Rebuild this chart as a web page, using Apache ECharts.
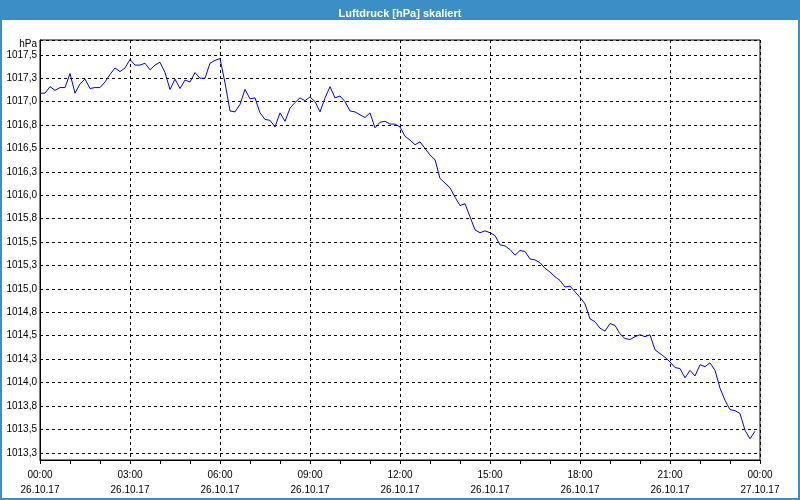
<!DOCTYPE html>
<html>
<head>
<meta charset="utf-8">
<script src="https://cdn.jsdelivr.net/npm/echarts@6/dist/echarts.min.js"></script>
<style>
html,body{margin:0;padding:0;background:#fff;}
#chart{width:800px;height:500px;}
</style>
</head>
<body>
<div id="chart"></div>
<script>
// Luftdruck, 10-minute samples from 26.10.17 00:00 to 23:50
const startDate = '26.10.17';
const endDate = '27.10.17';
const stepMinutes = 10;
const pressure = [
  1017.09, 1017.09, 1017.16, 1017.12, 1017.15, 1017.15,
  1017.30, 1017.09, 1017.19, 1017.24, 1017.14, 1017.15,
  1017.15, 1017.21, 1017.29, 1017.36, 1017.32, 1017.36,
  1017.45, 1017.39, 1017.39, 1017.41, 1017.34, 1017.39,
  1017.42, 1017.31, 1017.13, 1017.24, 1017.14, 1017.23,
  1017.21, 1017.31, 1017.25, 1017.25, 1017.41, 1017.44,
  1017.46, 1017.20, 1016.90, 1016.89, 1016.97, 1017.13,
  1017.03, 1017.04, 1016.88, 1016.81, 1016.80, 1016.73,
  1016.88, 1016.79, 1016.93, 1016.99, 1017.04, 1017.01,
  1017.05, 1017.00, 1016.89, 1017.04, 1017.16, 1017.04,
  1017.06, 1017.00, 1016.90, 1016.89, 1016.86, 1016.83,
  1016.88, 1016.72, 1016.78, 1016.79, 1016.76, 1016.76,
  1016.73, 1016.63, 1016.59, 1016.54, 1016.57, 1016.50,
  1016.43, 1016.38, 1016.18, 1016.13, 1016.08, 1015.98,
  1015.89, 1015.91, 1015.77, 1015.63, 1015.60, 1015.62,
  1015.60, 1015.57, 1015.47, 1015.46, 1015.42, 1015.36,
  1015.41, 1015.40, 1015.32, 1015.31, 1015.28, 1015.22,
  1015.18, 1015.13, 1015.09, 1015.02, 1015.03, 1014.97,
  1014.91, 1014.84, 1014.68, 1014.65, 1014.58, 1014.55,
  1014.63, 1014.61, 1014.52, 1014.47, 1014.46, 1014.49,
  1014.51, 1014.49, 1014.51, 1014.35, 1014.31, 1014.27,
  1014.22, 1014.16, 1014.15, 1014.05, 1014.13, 1014.07,
  1014.19, 1014.17, 1014.21, 1014.13, 1013.94, 1013.81,
  1013.71, 1013.70, 1013.67, 1013.49, 1013.40, 1013.48
];
const yMin = 1013.173;
const yMax = 1017.658;
const yStep = 0.25;

const seriesData = pressure.map((v, i) => [i * stepMinutes / 60, v]);

const chart = echarts.init(document.getElementById('chart'), null, {renderer: 'canvas'});
const blue = '#3c8fc6';
const fontFam = 'Liberation Sans, Arial, sans-serif';
chart.setOption({
  animation: false,
  backgroundColor: '#ffffff',
  title: {
    text: 'Luftdruck [hPa] skaliert',
    left: 'center',
    top: 3,
    textStyle: {color: '#ffffff', fontSize: 11, fontWeight: 'bold', fontFamily: fontFam}
  },
  graphic: [
    {type: 'rect', z: -1, shape: {x: 0, y: 0, width: 800, height: 20}, style: {fill: blue}},
    {type: 'rect', shape: {x: 0, y: 0, width: 2, height: 500}, style: {fill: blue}},
    {type: 'rect', shape: {x: 798, y: 0, width: 2, height: 500}, style: {fill: blue}},
    {type: 'rect', shape: {x: 0, y: 498, width: 800, height: 2}, style: {fill: blue}}
  ],
  grid: {
    left: 40, right: 40, top: 40, bottom: 40,
    show: true, borderColor: '#000', borderWidth: 1, backgroundColor: '#fff'
  },
  xAxis: {
    type: 'value',
    min: 0, max: 24, interval: 3,
    axisLine: {show: true, lineStyle: {color: '#000', width: 1}},
    axisTick: {show: true, length: 4, lineStyle: {color: '#000'}},
    minorTick: {show: true, splitNumber: 3, length: 4, lineStyle: {color: '#000'}},
    splitLine: {show: true, lineStyle: {color: '#000', type: [3, 3], width: 1}},
    axisLabel: {
      margin: 8,
      color: '#000',
      fontSize: 10,
      fontFamily: fontFam,
      lineHeight: 15,
      formatter: function (v) {
        const h = Math.round(v) % 24;
        return (h < 10 ? '0' : '') + h + ':00\n' + (v >= 24 ? endDate : startDate);
      }
    }
  },
  yAxis: {
    type: 'value',
    min: yMin, max: yMax,
    minInterval: yStep, maxInterval: yStep,
    splitNumber: 18,
    name: 'hPa',
    nameLocation: 'end',
    nameGap: -4,
    nameTextStyle: {color: '#000', fontSize: 10, fontFamily: fontFam, align: 'right', verticalAlign: 'middle', padding: [0, 3, 0, 0]},
    axisLine: {show: true, lineStyle: {color: '#000', width: 1}},
    axisTick: {show: false},
    splitLine: {show: true, lineStyle: {color: '#000', type: [3, 3], width: 1}},
    axisLabel: {
      margin: 3,
      color: '#000',
      fontSize: 10,
      fontFamily: fontFam,
      showMinLabel: false,
      showMaxLabel: false,
      formatter: function (v) {
        const k = v / yStep;
        if (Math.abs(k - Math.round(k)) > 1e-6) return '';
        return v.toFixed(1).replace('.', ',');
      }
    }
  },
  series: [{
    type: 'line',
    data: seriesData,
    showSymbol: false,
    symbol: 'none',
    lineStyle: {color: '#0000ff', width: 1},
    z: 5
  }]
});
</script>
</body>
</html>
